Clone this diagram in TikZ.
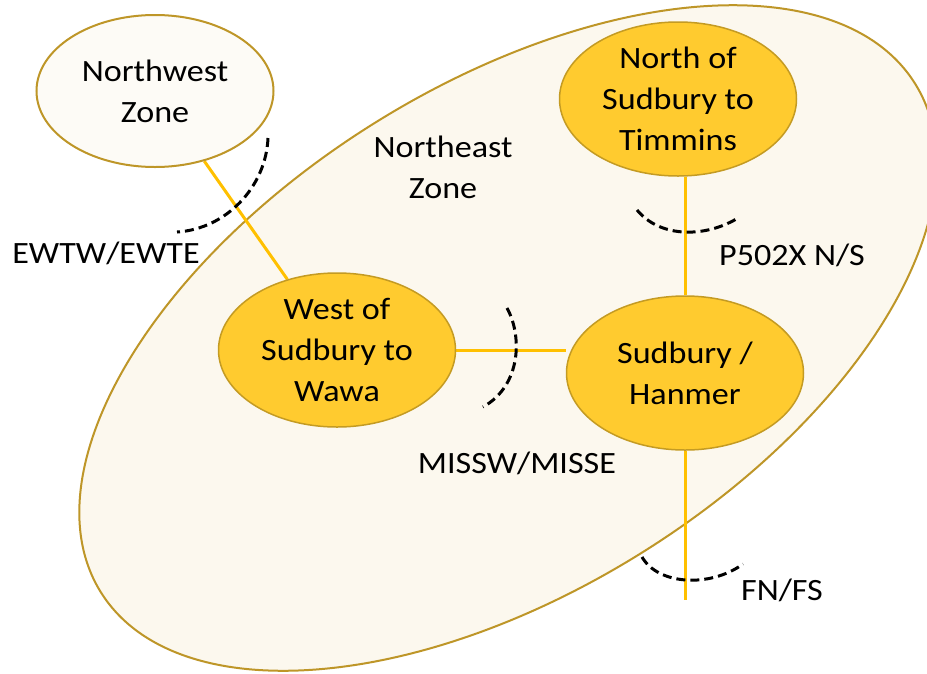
\documentclass[tikz,border=0pt]{standalone}
\usepackage{fontspec}
\setmainfont{Carlito}[FakeStretch=1.1]
\usetikzlibrary{shapes.geometric,backgrounds}
\definecolor{zonefill}{RGB}{252,248,238}
\definecolor{nwfill}{RGB}{253,251,246}
\definecolor{zoneline}{RGB}{190,150,40}
\definecolor{regionfill}{RGB}{255,203,47}
\definecolor{regionline}{RGB}{196,155,35}
\definecolor{linkyellow}{RGB}{255,192,0}
\begin{document}
\begin{tikzpicture}[x=1pt,y=-1pt,
  every node/.style={font=\fontsize{31}{41}\selectfont},
  region/.style={ellipse, draw=regionline, line width=1.5pt, fill=regionfill,
    minimum width=237pt, minimum height=154pt, inner sep=-20pt, align=center},
  zone/.style={ellipse, draw=zoneline, line width=2pt, inner sep=-20pt, align=center},
  linkline/.style={draw=linkyellow, line width=3pt},
  cutline/.style={draw=black, line width=3pt, dash pattern=on 9pt off 5pt},
  lbl/.style={anchor=base, inner sep=0pt}]
\useasboundingbox (0,0) rectangle (927,673);
\begin{scope}[on background layer]
  \node[zone, fill=zonefill, rotate=32, minimum width=960pt, minimum height=506pt] (ne) at (508,338) {};
\end{scope}
\node[zone, fill=nwfill, minimum width=237pt, minimum height=152pt] (nw) at (155,91) {Northwest\\Zone};
\node[region] (tim) at (678,99) {North of\\Sudbury to\\Timmins};
\node[region] (west) at (337,350) {West of\\Sudbury to\\Wawa};
\node[region] (sud) at (685,373) {Sudbury /\\Hanmer};
\coordinate (fsend) at (685,600);
\begin{scope}[on background layer]
  \draw[linkline] (nw) -- (west);
  \draw[linkline] (west.east) -- (west.east -| sud.west);
  \draw[linkline] (sud.north) -- (sud.north |- tim.south);
  \draw[linkline] (sud.south) -- (fsend);
\end{scope}
\draw[cutline] (268,138) .. controls (266,187) and (226,229) .. (177,232);
\draw[cutline] (637,210) .. controls (660,238) and (705,238) .. (738,218);
\draw[cutline] (507,308) .. controls (522,335) and (522,385) .. (483,407);
\draw[cutline] (642,557) .. controls (658,585) and (710,588) .. (743,564);
\node[align=center] (nelbl) at (443,167) {Northeast\\Zone};
\node[lbl] (ewlbl) at (106,263) {EWTW/EWTE};
\node[lbl] (plbl) at (792,265) {P502X N/S};
\node[lbl] (mlbl) at (517,473) {MISSW/MISSE};
\node[lbl] (flbl) at (782,600) {FN/FS};
\end{tikzpicture}
\end{document}
